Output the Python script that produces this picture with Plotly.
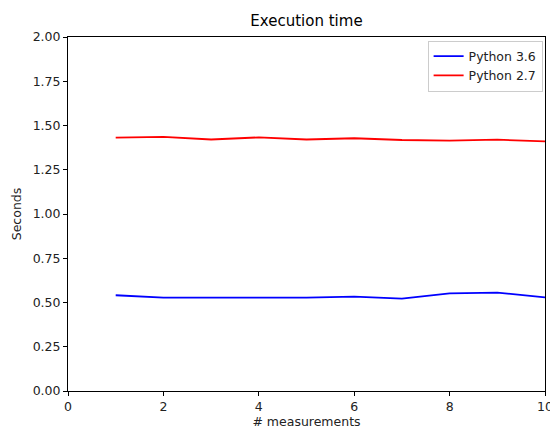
import plotly.graph_objects as go

measurements = [1, 2, 3, 4, 5, 6, 7, 8, 9, 10]
py36 = [0.541, 0.527, 0.527, 0.528, 0.527, 0.533, 0.522, 0.552, 0.556, 0.529]
py27 = [1.431, 1.436, 1.421, 1.433, 1.421, 1.428, 1.418, 1.414, 1.420, 1.410]

fig = go.Figure()
fig.add_trace(go.Scatter(x=measurements, y=py36, mode="lines", name="Python 3.6",
                         line=dict(color="blue", width=1.8)))
fig.add_trace(go.Scatter(x=measurements, y=py27, mode="lines", name="Python 2.7",
                         line=dict(color="red", width=1.8)))

axis_common = dict(showgrid=False, zeroline=False, showline=True, mirror=True,
                   linecolor="black", linewidth=1, ticks="outside", ticklen=4,
                   tickcolor="black", tickfont=dict(size=12.5, color="#222"),
                   ticklabeloverflow="allow", automargin=False)
fig.update_layout(
    width=550, height=431,
    margin=dict(l=68, r=5, t=37, b=40),
    paper_bgcolor="white", plot_bgcolor="white",
    font=dict(family="DejaVu Sans", size=12, color="#222"),
    title=dict(text="Execution time", x=0.5, xref="paper", xanchor="center",
               y=1, yref="container", yanchor="top", pad=dict(t=15),
               font=dict(size=15, color="black"), automargin=False),
    xaxis=dict(range=[0, 10], tickvals=[0, 2, 4, 6, 8, 10],
               title=dict(text="# measurements", standoff=4, font=dict(size=12.5)),
               **axis_common),
    yaxis=dict(range=[0, 2], tickvals=[0, 0.25, 0.5, 0.75, 1, 1.25, 1.5, 1.75, 2],
               tickformat=".2f",
               title=dict(text="Seconds", standoff=8, font=dict(size=12.5)),
               **axis_common),
    legend=dict(x=0.995, y=0.99, xanchor="right", yanchor="top",
                bordercolor="#cccccc", borderwidth=1, bgcolor="rgba(255,255,255,0.8)",
                font=dict(size=12.5, color="#222"), tracegroupgap=0),
    showlegend=True,
)

fig.write_html("out.html")
